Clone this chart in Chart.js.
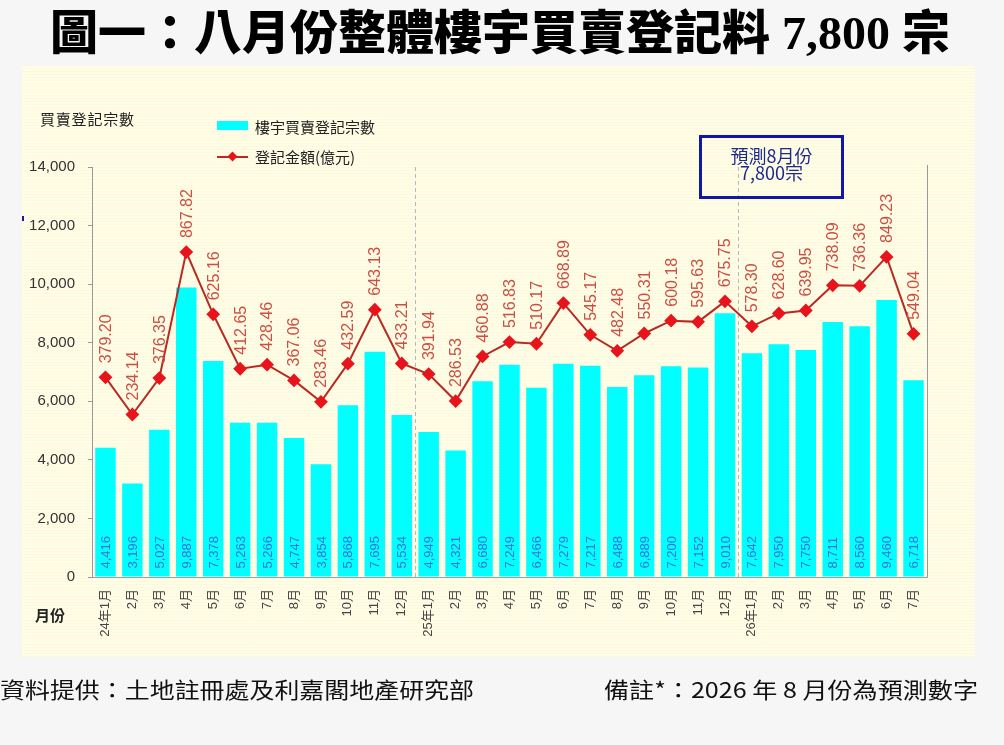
<!DOCTYPE html>
<html>
<head>
<meta charset="utf-8">
<script src="https://cdn.jsdelivr.net/npm/chart.js@4.4.1/dist/chart.umd.min.js"></script>
<style>
  html, body { margin:0; padding:0; }
  body { width:1004px; height:745px; background:#f6f6f6; position:relative; overflow:hidden;
         font-family:"Noto Sans CJK TC","Liberation Sans",sans-serif; }
  #panel { position:absolute; left:22px; top:66px; width:953px; height:591px;
           background:#fffde6;
           background-image:repeating-linear-gradient(to bottom, rgba(0,0,0,0) 0px, rgba(0,0,0,0) 2px, rgba(200,190,120,0.07) 2px, rgba(200,190,120,0.07) 3px); }
  #c { position:absolute; left:0; top:0; }
  .t { position:absolute; white-space:nowrap; line-height:1; }
  #title { left:50px; top:10px; font-size:47px; font-weight:900; color:#000;
           font-family:"Liberation Serif","Noto Sans CJK TC",serif; }
  .foot { top:677px; font-size:22px; color:#111; }
  #ytitle { left:40px; top:111px; font-size:15px; color:#222; letter-spacing:0.8px; }
  #xtitle { left:35px; top:607px; font-size:15px; font-weight:bold; color:#222; }
  .legtxt { font-size:15px; color:#222; }
  #legbar { position:absolute; left:217px; top:121px; width:31px; height:9px; background:#00ffff; }
  #legline { position:absolute; left:217px; top:156px; width:31px; height:2px; background:#b82a22; }
  #legdia { position:absolute; left:229px; top:153px; width:7px; height:7px; background:#e8141c; transform:rotate(45deg); }
  #box { position:absolute; left:699px; top:135px; width:139px; height:58px; border:3px solid #1016a8;
         text-align:center; color:#1c2a8c; font-size:18px; line-height:17px; padding-top:0; }
  #box div { position:relative; top:9px; }
  #dot { position:absolute; left:22px; top:216px; width:2px; height:5px; background:#1a1a8a; }
</style>
</head>
<body>
<div id="panel"></div>
<div id="dot"></div>
<canvas id="c" width="1004" height="745"></canvas>
<div id="title" class="t">圖一：八月份整體樓宇買賣登記料 7,800 宗</div>
<div id="ytitle" class="t">買賣登記宗數</div>
<div id="xtitle" class="t">月份</div>
<div id="legbar"></div>
<div class="t legtxt" style="left:255px;top:119px;">樓宇買賣登記宗數</div>
<div id="legline"></div>
<div id="legdia"></div>
<div class="t legtxt" style="left:255px;top:149px;">登記金額(億元)</div>
<div id="box"><div>預測8月份<br>7,800宗</div></div>
<div id="foot1" class="t foot" style="left:0px;">資料提供：土地註冊處及利嘉閣地產研究部</div>
<div id="foot2" class="t foot" style="left:604px;">備註*：2026 年 8 月份為預測數字</div>

<script>
// ---- data ----
const months = ["24年1月","2月","3月","4月","5月","6月","7月","8月","9月","10月","11月","12月",
                "25年1月","2月","3月","4月","5月","6月","7月","8月","9月","10月","11月","12月",
                "26年1月","2月","3月","4月","5月","6月","7月"];
const transactions = [4416,3196,5027,9887,7378,5263,5266,4747,3854,5868,7695,5534,
                      4949,4321,6680,7249,6466,7279,7217,6488,6889,7200,7152,9010,
                      7642,7950,7750,8711,8560,9460,6718];
const amounts = [379.20,234.14,376.35,867.82,625.16,412.65,428.46,367.06,283.46,432.59,643.13,433.21,
                 391.94,286.53,460.88,516.83,510.17,668.89,545.17,482.48,550.31,600.18,595.63,675.75,
                 578.30,628.60,639.95,738.09,736.36,849.23,549.04];
const yTicks = [0,2000,4000,6000,8000,10000,12000,14000];
const yearBreaks = [12, 24]; // index of first month of a new year

function fitWidth(id, w){
  const el = document.getElementById(id);
  const r = el.getBoundingClientRect().width;
  el.style.transformOrigin = 'left top';
  el.style.transform = 'scaleX(' + (w / r) + ')';
}
fitWidth('title', 900);
fitWidth('foot1', 474);
fitWidth('foot2', 374);

const labelPlugin = {
  id: 'labels',
  beforeDatasetsDraw(chart){
    const ctx = chart.ctx, xs = chart.scales.x, a = chart.chartArea;
    ctx.save();
    ctx.strokeStyle = '#b8b8b8';
    ctx.lineWidth = 1;
    ctx.setLineDash([4,3]);
    yearBreaks.forEach(i => {
      const x = Math.round((xs.getPixelForValue(i-1) + xs.getPixelForValue(i)) / 2) + 0.5;
      ctx.beginPath(); ctx.moveTo(x, a.top); ctx.lineTo(x, a.bottom); ctx.stroke();
    });
    ctx.setLineDash([]);
    ctx.strokeStyle = '#999';
    ctx.beginPath(); ctx.moveTo(a.right + 0.5, a.top - 2); ctx.lineTo(a.right + 0.5, a.bottom); ctx.stroke();
    ctx.restore();
  },
  afterDatasetsDraw(chart){
    const ctx = chart.ctx;
    ctx.save();
    const barMeta = chart.getDatasetMeta(1);
    ctx.font = '13px "Liberation Sans", sans-serif';
    ctx.fillStyle = '#3d6fd9';
    ctx.textAlign = 'left';
    ctx.textBaseline = 'middle';
    barMeta.data.forEach((el, i) => {
      ctx.save();
      ctx.translate(el.x + 1, el.base - 8);
      ctx.rotate(-Math.PI/2);
      ctx.fillText(transactions[i].toLocaleString('en-US'), 0, 0);
      ctx.restore();
    });
    const lineMeta = chart.getDatasetMeta(0);
    ctx.font = '16px "Liberation Sans", sans-serif';
    ctx.fillStyle = '#cc4f44';
    lineMeta.data.forEach((el, i) => {
      ctx.save();
      ctx.translate(el.x + 1, el.y - 14);
      ctx.rotate(-Math.PI/2);
      ctx.fillText(amounts[i].toFixed(2), 0, 0);
      ctx.restore();
    });
    ctx.restore();
  }
};

Chart.defaults.font.family = '"Liberation Sans","Noto Sans CJK TC",sans-serif';

new Chart(document.getElementById('c'), {
  data: {
    labels: months,
    datasets: [
      {
        type: 'line', label: '登記金額(億元)', data: amounts, yAxisID: 'y2', order: 0,
        borderColor: '#b82a22', borderWidth: 2, tension: 0,
        pointStyle: 'rectRot', pointRadius: 5.5,
        pointBackgroundColor: '#e8141c', pointBorderColor: '#e8141c'
      },
      {
        type: 'bar', label: '樓宇買賣登記宗數', data: transactions, yAxisID: 'y', order: 1,
        backgroundColor: '#00ffff', barPercentage: 0.76, categoryPercentage: 1.0
      }
    ]
  },
  options: {
    responsive: false,
    animation: false,
    devicePixelRatio: 1,
    layout: { padding: { left: 0, right: 77, top: 167, bottom: 88 } },
    plugins: { legend: { display: false }, tooltip: { enabled: false } },
    scales: {
      x: {
        grid: { display: false },
        border: { display: true, color: '#a0a0a0' },
        ticks: { autoSkip: false, minRotation: 90, maxRotation: 90, padding: 4,
                 font: { size: 13 }, color: '#444' },
        afterFit(s){ s.height = 80; }
      },
      y: {
        position: 'left', min: 0, max: 14000,
        afterBuildTicks(s){ s.ticks = yTicks.map(v => ({ value: v })); },
        grid: { drawOnChartArea: false, tickLength: 4, color: '#999' },
        border: { color: '#999' },
        ticks: { padding: 13, font: { size: 15 }, color: '#333',
                 callback: v => Number(v).toLocaleString('en-US') },
        afterFit(s){ s.width = 92; }
      },
      y2: { display: false, position: 'right', min: -400, max: 1200 }
    }
  },
  plugins: [labelPlugin]
});
</script>
</body>
</html>
